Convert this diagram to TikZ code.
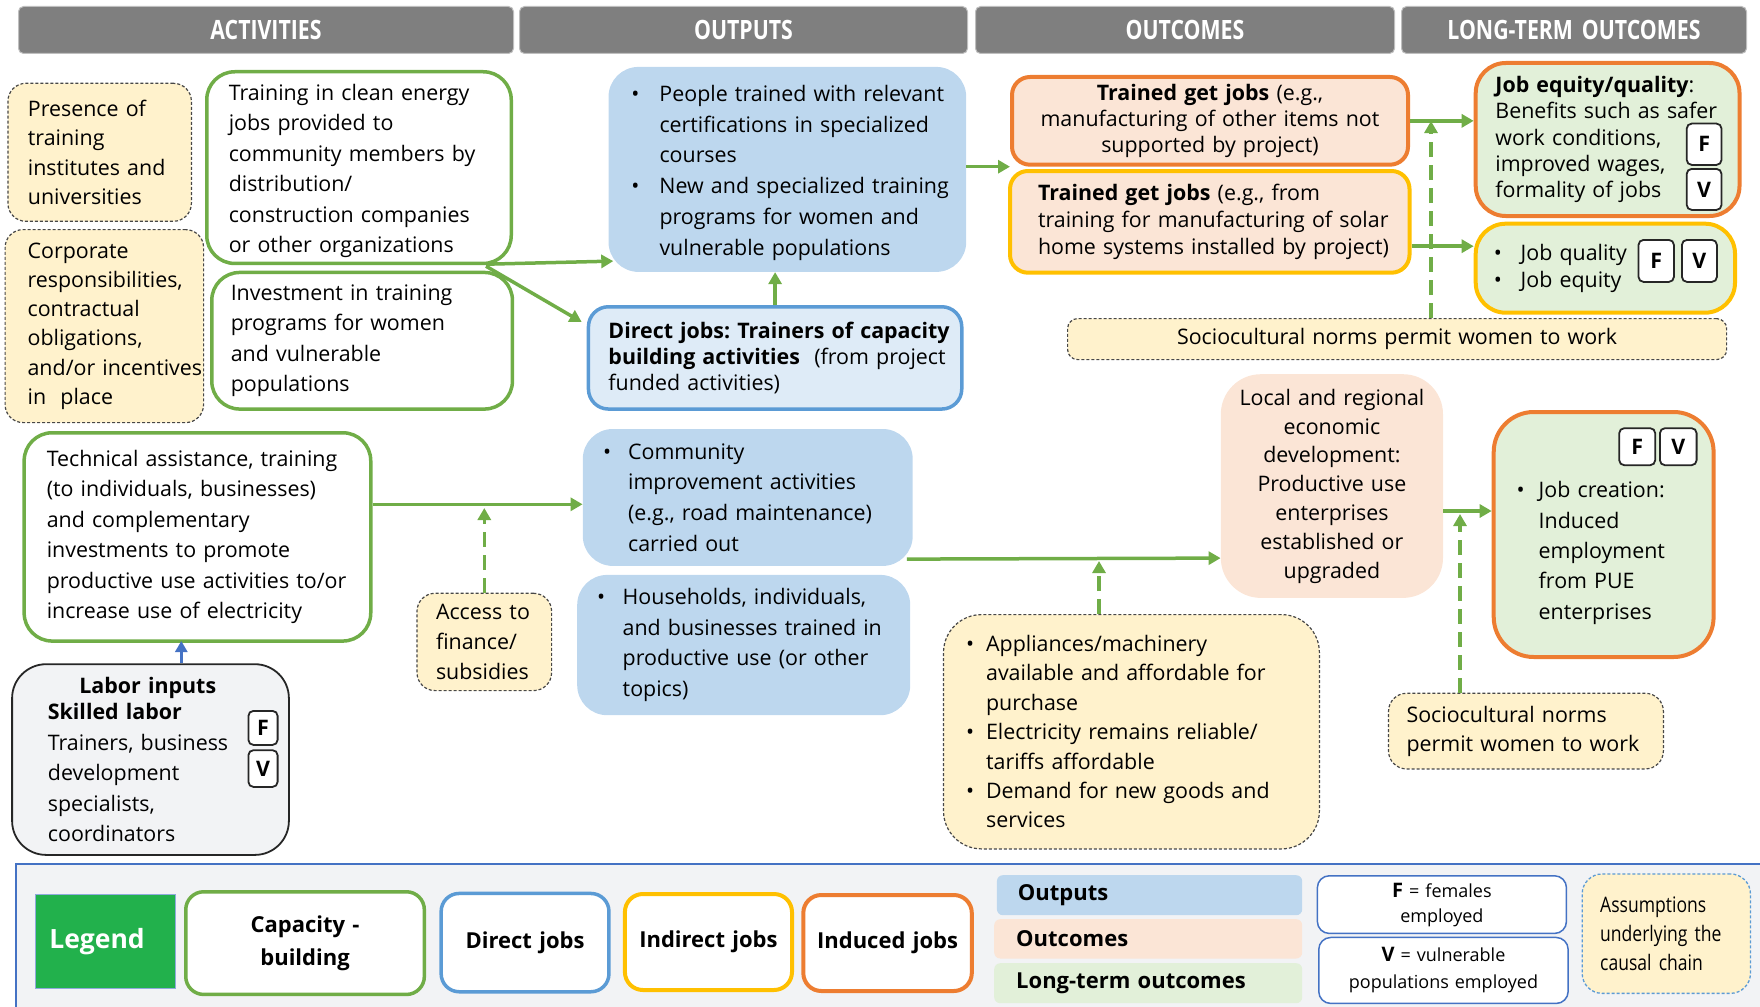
\documentclass[tikz,border=0pt]{standalone}
\usepackage{fontspec}
\setmainfont{Open Sans}
\newfontfamily\hdrfont[FakeStretch=0.8]{Open Sans}
\newfontfamily\cndfont[FakeStretch=0.82]{Open Sans}
\usetikzlibrary{arrows.meta}

\definecolor{hdrgray}{HTML}{7F7F7F}
\definecolor{hdredge}{HTML}{BFBFBF}
\definecolor{capgreen}{HTML}{70AD47}
\definecolor{jobblue}{HTML}{5B9BD5}
\definecolor{joborange}{HTML}{ED7D31}
\definecolor{jobgold}{HTML}{FFC000}
\definecolor{outfill}{HTML}{BDD7EE}
\definecolor{djfill}{HTML}{DEEBF7}
\definecolor{ocfill}{HTML}{FBE5D6}
\definecolor{ltfill}{HTML}{E2F0D9}
\definecolor{asmfill}{HTML}{FFF2CC}
\definecolor{panelfill}{HTML}{F2F3F5}
\definecolor{frameblue}{HTML}{4472C4}
\definecolor{legendgreen}{HTML}{22B14C}
\definecolor{inkdark}{HTML}{262626}

% bullet hung to the left of the text margin
\newcommand\bl[1][18]{\leavevmode\llap{\textbullet\hskip #1pt}}

\begin{document}
\frenchspacing
\begin{tikzpicture}[x=1pt,y=-1pt,
  every node/.style={inner sep=0pt, anchor=north west, text=black,
    font=\fontsize{21.4}{30.5}\selectfont},
  sz/.style 2 args={minimum width=#1pt, minimum height=#2pt, text width=#1pt},
  lp/.style={execute at begin node={\leftskip=#1pt\rightskip=-80pt plus 1fil}},
  ls/.style={font=\fontsize{21.4}{#1}\selectfont},
  hdr/.style={fill=hdrgray, draw=hdredge, line width=1pt, rounded corners=5pt, align=center, text=white,
    font=\hdrfont\bfseries\fontsize{26.6}{30}\selectfont},
  asm/.style={fill=asmfill, draw=inkdark!85, line width=1.2pt,
    dash pattern=on 3pt off 2pt, rounded corners=18pt},
  capbox/.style={draw=capgreen, line width=3.5pt, fill=white, rounded corners=28pt},
  outbox/.style={fill=outfill, rounded corners=30pt},
  djbox/.style={draw=jobblue, line width=3.5pt, fill=djfill, rounded corners=20pt},
  ocbox/.style={draw=#1, line width=4pt, fill=ocfill, rounded corners=18pt},
  ltbox/.style={draw=#1, line width=4pt, fill=ltfill, rounded corners=30pt},
  localbox/.style={fill=ocfill, rounded corners=40pt},
  laborbox/.style={fill=panelfill, draw=inkdark, line width=1.8pt, rounded corners=34pt},
  tag/.style={draw=inkdark, line width=1.8pt, fill=white, rounded corners=5pt,
    align=center, font=\bfseries\fontsize{21.4}{24}\selectfont},
  panel/.style={fill=panelfill, draw=frameblue, line width=1.8pt},
  legkey/.style={align=center, font=\bfseries\fontsize{22}{32.5}\selectfont},
  swatch/.style={rounded corners=6pt, font=\bfseries\fontsize{22}{26}\selectfont},
  keynote/.style={draw=frameblue, line width=1.5pt, fill=white, rounded corners=12pt, align=center},
  arr/.style={draw=capgreen, line width=3.5pt, -{Triangle[length=12pt,width=13pt]}},
  darr/.style={arr, dash pattern=on 15pt off 8pt},
  barr/.style={draw=frameblue, line width=3pt, -{Triangle[length=11pt,width=12pt]}}
]
\useasboundingbox (0,0) rectangle (1760,1006);

% ---------- column headers ----------
\node[hdr, sz={495}{47}] (hact) at (18,6) {ACTIVITIES};
\node[hdr, sz={448}{47}] (hout) at (519,6) {OUTPUTS};
\node[hdr, sz={419}{47}] (hoc) at (975,6) {OUTCOMES};
\node[hdr, sz={345}{47}] (hlt) at (1401,6) {LONG-TERM OUTCOMES};

% ---------- activities ----------
\node[asm, lp=20, ls=29.3, sz={183.5}{138}] (pres) at (7.3,82.7)
  {Presence of\\training\\institutes and\\universities};
\node[asm, lp=22.5, ls=29.3, sz={198.5}{193}] (corp) at (4.5,229)
  {Corporate\\responsibilities,\\contractual\\obligations,\\and/or incentives\\in\ \ place};
\node[capbox, lp=22, sz={304.5}{191.7}] (train) at (205,70)
  {\rule{0pt}{23pt}Training in clean energy\\jobs provided to\\community members by\\distribution/\\construction companies\\or other organizations};
\node[capbox, lp=19, sz={300.7}{136.6}] (invest) at (210,270.7)
  {Investment in training\\programs for women\\and vulnerable\\populations};
\node[capbox, lp=22.6, sz={346.6}{208.3}] (tech) at (22.4,431)
  {Technical assistance, training\\(to individuals, businesses)\\and complementary\\investments to promote\\productive use activities to/or\\increase use of electricity};
\node[laborbox, lp=35.8, sz={276.8}{190.7}] (labor) at (11.2,663.3)
  {\hspace*{31.5pt}\textbf{Labor inputs}\\[-4.5pt]\textbf{Skilled labor}\\Trainers, business\\development\\specialists,\\coordinators};
\node[tag, sz={29.2}{34}] (laborF) at (247.5,710) {F};
\node[tag, sz={29.2}{36.7}] (laborV) at (247.5,749.3) {V};
\node[asm, lp=19, ls=29.7, sz={134.6}{97.3}] (access) at (416.4,592.7)
  {Access to\\finance/\\subsidies};

% ---------- outputs ----------
\node[outbox, lp=51, ls=30.7, sz={357.7}{205}] (out1) at (608.3,66.7)
  {\rule{0pt}{23pt}\bl[20]People trained with relevant\\certifications in specialized\\courses\\\bl[20]New and specialized training\\programs for women and\\vulnerable populations};
\node[djbox, lp=20, ls=26.3, sz={373.3}{102.3}] (dj) at (586.7,305)
  {\textbf{Direct jobs: Trainers of capacity}\\\textbf{building activities}\ \ (from project\\funded activities)};
\node[outbox, lp=45.3, ls=30.8, sz={329.9}{136.9}] (comm) at (582.6,428.8)
  {\bl[17]Community\\improvement activities\\(e.g., road maintenance)\\carried out};
\node[outbox, lp=45.5, ls=30.7, sz={333}{140.3}] (hh) at (577,574.7)
  {\bl[17.5]Households, individuals,\\and businesses trained in\\productive use (or other\\topics)};

% ---------- outcomes ----------
\node[ocbox=joborange, align=center, ls=25.6, sz={396}{87.7}] (oc1) at (1010,75)
  {\textbf{Trained get jobs} (e.g.,\\manufacturing of other items not\\supported by project)};
\node[ocbox=jobgold, lp=28, ls=26.6, sz={399.5}{101.7}] (oc2) at (1008,169)
  {\textbf{Trained get jobs} (e.g., from\\training for manufacturing of solar\\home systems installed by project)};
\node[asm, align=center, rounded corners=10pt, sz={659}{41}] (soc1) at (1067,318)
  {Sociocultural norms permit women to work};
\node[localbox, align=center, ls=28.8, sz={222.2}{223.7}] (local) at (1220.6,374)
  {Local and regional\\economic\\development:\\Productive use\\enterprises\\established or\\upgraded};
\node[asm, lp=42.6, ls=29.4, rounded corners=38pt, sz={375.9}{234.3}] (appl) at (942.9,614)
  {\bl[12]Appliances/machinery\\available and affordable for\\purchase\\\bl[12]Electricity remains reliable/\\tariffs affordable\\\bl[12]Demand for new goods and\\services};

% ---------- long-term outcomes ----------
\node[ltbox=joborange, lp=19.7, ls=26.3, sz={263.8}{153}] (lt1) at (1473.7,61)
  {\textbf{Job equity/quality}:\\Benefits such as safer\\work conditions,\\improved wages,\\formality of jobs};
\node[tag, sz={34.8}{41.3}] (lt1F) at (1685.8,122.7) {F};
\node[tag, sz={34.8}{41}] (lt1V) at (1685.8,168) {V};
\node[ltbox=jobgold, lp=44.9, ls=26.7, sz={259.3}{89}] (lt2) at (1473.7,221.7)
  {\bl[18.6]Job quality\\\bl[18.6]Job equity};
\node[tag, sz={35.4}{42}] (lt2F) at (1637.6,239) {F};
\node[tag, sz={35}{42}] (lt2V) at (1681,239) {V};
\node[ltbox=joborange, lp=45, ls=30.4, rounded corners=40pt, sz={219.9}{245}] (jobcr) at (1491.7,410)
  {\rule{0pt}{53pt}\bl[14]Job creation:\\Induced\\employment\\from PUE\\enterprises};
\node[tag, sz={36}{37}] (jcF) at (1618.3,427.3) {F};
\node[tag, sz={36.7}{37}] (jcV) at (1659,427.3) {V};
\node[asm, lp=18, ls=29.3, sz={274.9}{75.6}] (soc2) at (1387.9,692.7)
  {Sociocultural norms\\permit women to work};

% ---------- connectors ----------
\draw[arr] ([shift={(-27,-1)}]train.south east) -- ([shift={(5,-11)}]out1.south west);
\draw[arr] ([shift={(-27,1)}]train.south east) -- ([shift={(-5,17)}]dj.north west);
\draw[arr] (dj.north) -- (dj.north |- out1.south);
\draw[arr] (out1.east |- oc1.south west) -- (oc1.south west);
\draw[arr] (oc1.east) -- (oc1.east -| lt1.west);
\coordinate (p6) at ([shift={(0,-22)}]lt2.west);
\draw[arr] (p6 -| oc2.east) -- (p6);
\coordinate (p7) at (1431,121);
\draw[darr] (p7 |- soc1.north) -- (p7);
\coordinate (p8) at (0,504.3);
\draw[arr] (tech.east |- p8) -- (comm.west |- p8);
\coordinate (p9) at (0,508);
\draw[darr] (access.north) -- (access.north |- p9);
\coordinate (p10) at (181.3,641);
\draw[barr] (p10 |- labor.north) -- (p10);
\draw[arr] ([shift={(-6,-7)}]comm.south east) -- ([shift={(0,-40)}]local.south west);
\coordinate (p12) at (1099,561);
\draw[darr] (p12 |- appl.north) -- (p12);
\coordinate (p13) at (0,511);
\draw[arr] (local.east |- p13) -- (jobcr.west |- p13);
\coordinate (p14) at (1460,514);
\draw[darr] (p14 |- soc2.north) -- (p14);

% ---------- legend ----------
\node[panel, sz={1760}{160}] (legpanel) at (15,863) {};
\node[fill=legendgreen, draw=frameblue!60, line width=1pt, lp=14, text=white,
  font=\bfseries\fontsize{26.5}{30}\selectfont, sz={140.2}{94.3}] (lgd) at (34.8,894) {Legend};
\node[capbox, legkey, rounded corners=18pt, sz={238.6}{102.7}] (kcap) at (184,890) {Capacity -\\building};
\node[djbox, legkey, fill=white, rounded corners=18pt, sz={167.8}{98.3}] (kdj) at (439.4,891.7) {Direct jobs};
\node[ocbox=jobgold, legkey, fill=white, sz={167.1}{96}] (kind) at (622.9,892) {Indirect jobs};
\node[ocbox=joborange, legkey, fill=white, sz={168.5}{96}] (kinduced) at (801.3,893) {Induced jobs};
\node[swatch, fill=outfill, lp=21, sz={305.3}{40}] (kout) at (996.7,875) {Outputs};
\node[swatch, fill=ocfill, lp=22, sz={308}{39.3}] (koc) at (994,919) {Outcomes};
\node[swatch, fill=ltfill, lp=22, sz={308}{40}] (klt) at (994,963) {Long-term outcomes};
\node[keynote, font=\fontsize{18}{25}\selectfont, sz={249.1}{57.7}] (kF) at (1316.6,875)
  {{\bfseries\fontsize{20}{25}\selectfont F} = females\\employed};
\node[keynote, font=\fontsize{18}{27}\selectfont, sz={249.4}{66}] (kV) at (1318,936.7)
  {{\bfseries\fontsize{20}{27}\selectfont V} = vulnerable\\populations employed};
\node[fill=asmfill, draw=jobblue, line width=1.3pt, dash pattern=on 3pt off 2pt, rounded corners=20pt,
  lp=18, font=\cndfont\fontsize{21.4}{28.6}\selectfont, sz={168.3}{119.4}] (kasm) at (1581.5,873.3)
  {Assumptions\\underlying the\\causal chain};
\end{tikzpicture}
\end{document}
